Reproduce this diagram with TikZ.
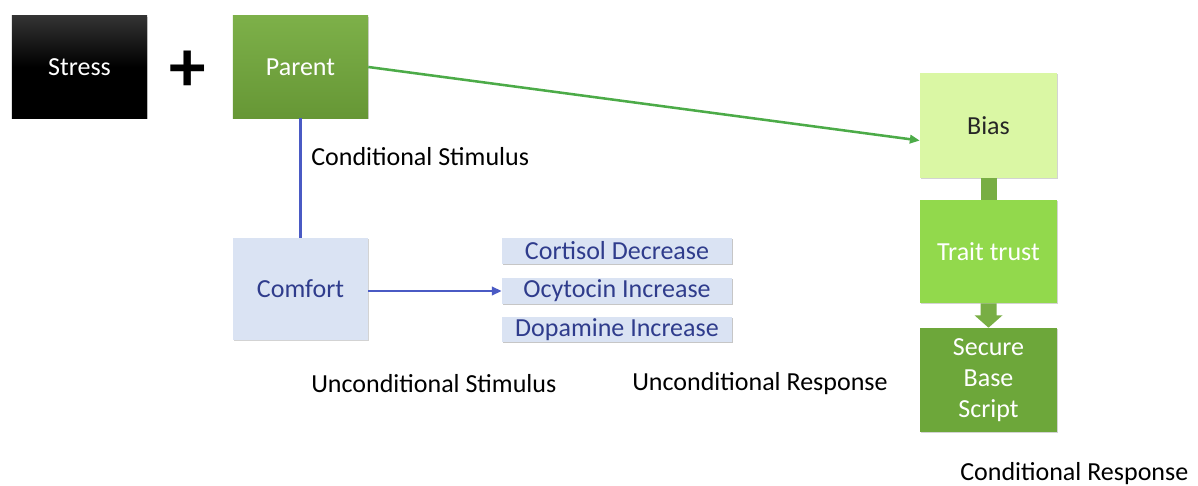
\documentclass[tikz,border=0pt]{standalone}
\usepackage{fontspec}
\setmainfont{Carlito}
\usetikzlibrary{shadows,arrows.meta,shapes.arrows}
\definecolor{parentg}{HTML}{6FA43A}
\definecolor{parentgt}{HTML}{7DB049}
\definecolor{comfortb}{HTML}{DAE3F3}
\definecolor{bluetxt}{HTML}{2F3C8C}
\definecolor{blueln}{HTML}{4A5AC4}
\definecolor{greenln}{HTML}{4CAB48}
\definecolor{biasg}{HTML}{DAF7A4}
\definecolor{traitg}{HTML}{92D94C}
\definecolor{secureg}{HTML}{6DA73A}
\definecolor{barg}{HTML}{78AE44}
\tikzset{
  px/.style={x=0.025cm,y=-0.025cm},
  fnt/.style={font=\fontsize{18.5}{22}\selectfont},
  box/.style={minimum width=3.375cm,minimum height=2.55cm,inner sep=0pt,
    drop shadow={shadow xshift=0.4pt,shadow yshift=-0.8pt,opacity=0.35},fnt},
  smallbox/.style={minimum width=5.75cm,minimum height=0.64cm,inner sep=0pt,fill=comfortb,
    text=bluetxt,drop shadow={shadow xshift=0.4pt,shadow yshift=-0.8pt,opacity=0.45},fnt},
  lbl/.style={fnt,anchor=west,inner sep=0pt},
  tip/.style={-{Triangle[length=7pt,width=6pt]}},
}
\begin{document}
\begin{tikzpicture}[px]
\useasboundingbox (0,0) rectangle (1198,486);
\node[box,top color=black!80,bottom color=black,middle color=black] (stress) at (79.5,67) {\textcolor{white}{Stress}};
\node[font=\fontsize{52}{52}\selectfont\bfseries,inner sep=0pt] (plus) at (188,71) {+};
\node[box,top color=parentgt,bottom color=parentg!92!black,text=white] (parent) at (300.5,67) {Parent};
\node[box,fill=comfortb,text=bluetxt] (comfort) at (300.5,289) {Comfort};
\node[smallbox] (cort) at (617,251) {Cortisol Decrease};
\node[smallbox] (ocy) at (617,291) {Ocytocin Increase};
\node[smallbox] (dopa) at (617,329.5) {Dopamine Increase};
\node[box,fill=biasg,text=black!85,minimum width=3.425cm,minimum height=2.625cm] (bias) at (988.5,125.5) {Bias};
\node[box,fill=traitg,text=white,minimum width=3.425cm,minimum height=2.575cm] (trait) at (988.5,251.5) {Trait trust};
\node[box,fill=secureg,text=white,minimum width=3.425cm,minimum height=2.6cm,align=center,
  font=\fontsize{18.5}{22}\selectfont] (secure) at (988.5,380) {Secure\\Base\\Script};
\node[lbl] (cs) at (311,157) {Conditional Stimulus};
\node[lbl] (us) at (311,384) {Unconditional Stimulus};
\node[lbl] (ur) at (632,384) {Unconditional Response};
\node[lbl] (cr) at (960,474) {Conditional Response};
% connectors
\draw[blueln,line width=2pt] (parent.south) -- (comfort.north);
\draw[blueln,line width=1.8pt,tip] (comfort.east |- ocy.west) -- (ocy.west);
\draw[greenln,line width=1.8pt,tip] (parent.east) -- ([yshift=-0.375cm]bias.west);
\fill[barg] ([xshift=-0.2cm]bias.south) rectangle ([xshift=0.2cm]trait.north);
\fill[barg] ([xshift=-0.2cm]trait.south) -- ([xshift=-0.2cm,yshift=-0.3cm]trait.south)
  -- ([xshift=-0.35cm,yshift=-0.3cm]trait.south) -- (secure.north)
  -- ([xshift=0.35cm,yshift=-0.3cm]trait.south) -- ([xshift=0.2cm,yshift=-0.3cm]trait.south)
  -- ([xshift=0.2cm]trait.south) -- cycle;
\end{tikzpicture}
\end{document}
